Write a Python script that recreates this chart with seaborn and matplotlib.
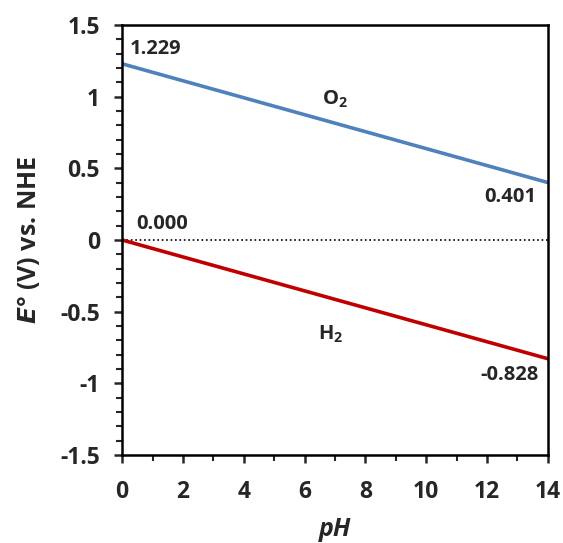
import matplotlib
matplotlib.use("Agg")
import matplotlib.pyplot as plt
import seaborn as sns
import pandas as pd
from matplotlib.ticker import MultipleLocator

# water splitting potentials vs pH
ph = [0, 14]
o2_potential = [1.229, 0.401]
h2_potential = [0.000, -0.828]

sns.set_style("ticks")
plt.rcParams['font.family'] = ['Open Sans', 'DejaVu Sans']
plt.rcParams['font.weight'] = 'bold'
plt.rcParams['mathtext.default'] = 'regular'

df = pd.DataFrame({"pH": ph + ph,
                   "E": o2_potential + h2_potential,
                   "couple": ["O2"] * 2 + ["H2"] * 2})

fig = plt.figure(figsize=(5.63, 5.43), dpi=100)
ax = fig.add_axes([0.217, 0.162, 0.756, 0.792])

sns.lineplot(data=df, x="pH", y="E", hue="couple",
             palette={"O2": "#4F81BD", "H2": "#C00000"},
             linewidth=2.6, legend=False, ax=ax)
ax.axhline(0, color="black", linestyle=":", linewidth=1.2, zorder=0)

ax.set_xlim(0, 14)
ax.set_ylim(-1.5, 1.5)
ax.xaxis.set_major_locator(MultipleLocator(2))
ax.xaxis.set_minor_locator(MultipleLocator(1))
ax.yaxis.set_minor_locator(MultipleLocator(0.1))
ax.set_yticks([-1.5, -1, -0.5, 0, 0.5, 1, 1.5])
ax.set_yticklabels(["-1.5", "-1", "-0.5", "0", "0.5", "1", "1.5"])

for s in ax.spines.values():
    s.set_linewidth(1.8)
    s.set_color("black")
ax.tick_params(which="major", length=6, width=1.8, labelsize=16.5)
ax.tick_params(axis="y", which="major", pad=10)
ax.tick_params(axis="x", which="major", pad=12)
ax.tick_params(which="minor", length=4, width=1.5)
for lab in ax.get_xticklabels() + ax.get_yticklabels():
    lab.set_fontweight("bold")

ax.set_xlabel("pH", fontsize=18, fontweight="bold", style="italic", labelpad=9)
ax.set_ylabel(r"$\it{E}$° (V) vs. NHE", fontsize=18, fontweight="bold", labelpad=13)

# annotations
ax.text(0.25, 1.33, "1.229", fontsize=14.5, fontweight="bold", ha="left", va="center")
ax.text(12.75, 0.30, "0.401", fontsize=14.5, fontweight="bold", ha="center", va="center")
ax.text(0.45, 0.115, "0.000", fontsize=14.5, fontweight="bold", ha="left", va="center")
ax.text(12.75, -0.94, "-0.828", fontsize=14.5, fontweight="bold", ha="center", va="center")
ax.text(7.0, 0.98, "O$_2$", fontsize=14.5, fontweight="bold", ha="center", va="center")
ax.text(6.85, -0.66, "H$_2$", fontsize=14.5, fontweight="bold", ha="center", va="center")

fig.savefig("out.png", dpi=100)
